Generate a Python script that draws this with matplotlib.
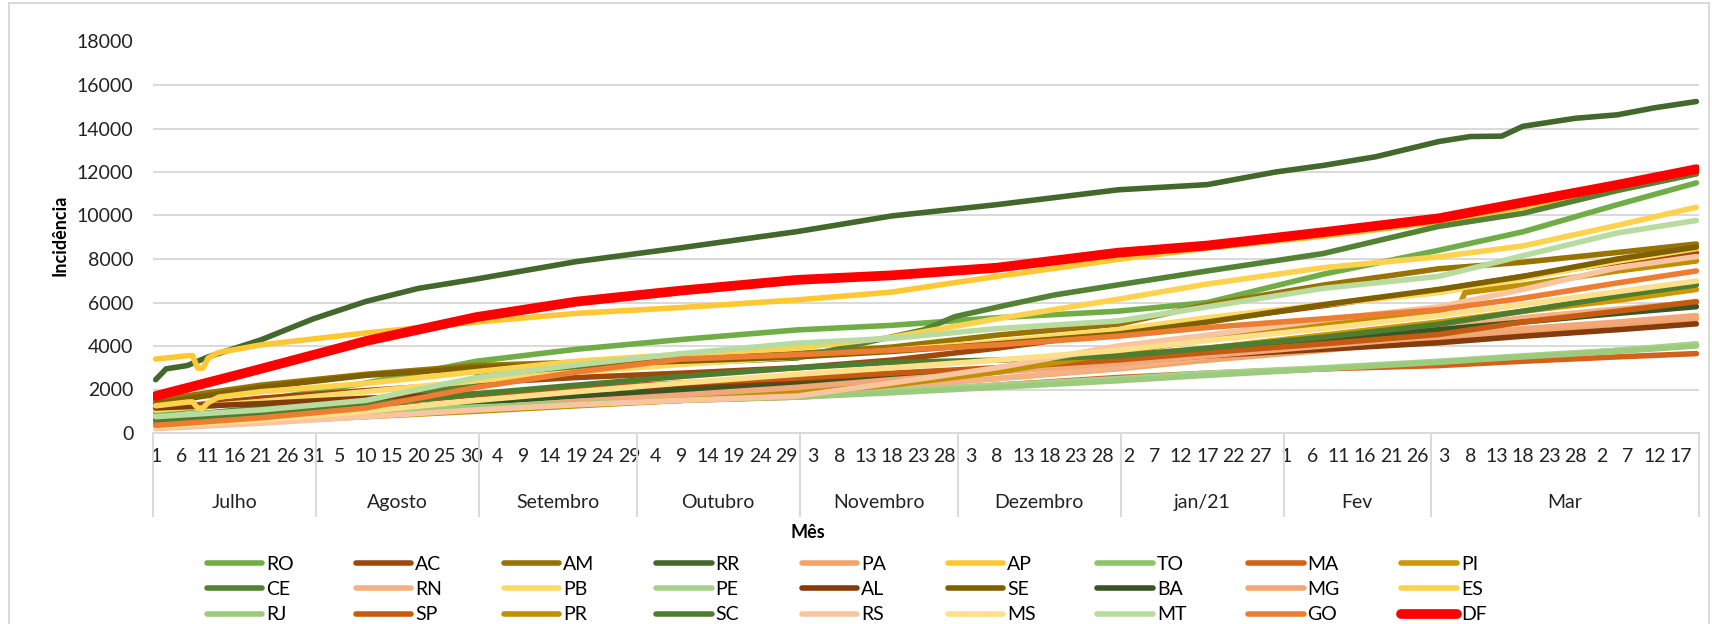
import numpy as np
import pandas as pd
import matplotlib
matplotlib.use("Agg")
import matplotlib.pyplot as plt
from matplotlib.patches import Rectangle
from matplotlib.transforms import blended_transform_factory

plt.rcParams['font.family'] = ['Lato', 'DejaVu Sans']

# Incidência acumulada por estado (índice = dia desde 1/jul/2020)
DIAS = [0, 20, 40, 61, 80, 100, 122, 140, 160, 183, 200, 222, 244, 260, 278, 293]

RO = [950, 1500, 2300, 3300, 3850, 4300, 4740, 4950, 5300, 5600, 6000, 7300, 8400, 9250, 10500, 11500]
AC = [1100, 1600, 1950, 2300, 2550, 2750, 3000, 3350, 3900, 4650, 5150, 5850, 6580, 7200, 7850, 8290]
AM = [1500, 2200, 2700, 3100, 3250, 3400, 3650, 3950, 4500, 5000, 5900, 6800, 7550, 7850, 8300, 8690]
PA = [450, 650, 900, 1150, 1350, 1600, 1900, 2200, 2500, 2950, 3350, 3800, 4300, 4650, 5000, 5250]
TO = [450, 750, 1000, 1250, 1400, 1550, 1700, 1900, 2150, 2450, 2700, 2950, 3250, 3500, 3800, 4050]
MA = [350, 600, 850, 1100, 1300, 1500, 1650, 1900, 2200, 2550, 2750, 2950, 3100, 3300, 3500, 3650]
PI = [500, 750, 1050, 1350, 1600, 1850, 2100, 2400, 2800, 3400, 3900, 4500, 5100, 5600, 6100, 6600]
RN = [350, 550, 800, 1050, 1300, 1550, 1800, 2100, 2500, 3000, 3500, 4100, 4800, 5300, 5700, 6000]
PB = [1050, 1450, 1900, 2400, 2800, 3150, 3500, 3800, 4200, 4750, 5300, 5900, 6450, 7100, 7900, 8480]
PE = [650, 900, 1150, 1380, 1500, 1620, 1750, 1950, 2200, 2500, 2750, 3000, 3300, 3550, 3800, 4100]
AL = [1150, 1350, 1600, 1800, 2000, 2150, 2350, 2600, 2900, 3250, 3550, 3850, 4150, 4450, 4750, 5020]
SE = [1350, 2100, 2650, 3000, 3150, 3300, 3500, 3750, 4100, 4550, 5100, 5900, 6600, 7200, 8000, 8550]
BA = [550, 800, 1100, 1400, 1700, 1950, 2200, 2500, 2850, 3400, 3800, 4250, 4750, 5100, 5500, 5810]
MG = [300, 550, 850, 1150, 1450, 1750, 2100, 2450, 2800, 3200, 3550, 4000, 4450, 4800, 5100, 5400]
RJ = [500, 700, 950, 1200, 1350, 1500, 1650, 1850, 2100, 2400, 2650, 2950, 3250, 3500, 3750, 4000]
SP = [400, 800, 1300, 1750, 2050, 2300, 2530, 2750, 3000, 3360, 3700, 4100, 4530, 5100, 5600, 6040]
SC = [600, 900, 1300, 1800, 2200, 2600, 3000, 3250, 3350, 3550, 3900, 4400, 5000, 5600, 6300, 6810]
RS = [200, 450, 750, 1060, 1300, 1500, 1700, 2300, 3000, 4000, 4500, 5200, 5800, 6600, 7600, 8110]
MS = [300, 600, 1000, 1500, 1900, 2300, 2700, 3000, 3350, 3800, 4250, 4800, 5400, 5900, 6500, 6990]
MT = [750, 1060, 1500, 2550, 3130, 3650, 4130, 4350, 4800, 5150, 5800, 6650, 7200, 8150, 9200, 9770]
GO = [350, 700, 1150, 2100, 2800, 3400, 3600, 3800, 4050, 4450, 4850, 5250, 5670, 6200, 6900, 7450]
DF = [1700, 2950, 4230, 5330, 6040, 6550, 7040, 7250, 7600, 8290, 8620, 9230, 9870, 10600, 11410, 12130]

# séries com saltos / quedas pontuais
RR_DIAS = [0, 2, 6, 10, 20, 30, 40, 50, 61, 80, 100, 122, 140, 160, 183, 200, 213, 222, 232,
           244, 250, 256, 260, 270, 278, 285, 293]
RR = [2450, 2950, 3100, 3500, 4280, 5250, 6050, 6650, 7080, 7880, 8520, 9260, 9980, 10500, 11180,
      11420, 12000, 12300, 12700, 13400, 13630, 13650, 14100, 14470, 14630, 14950, 15240]
AP_DIAS = [0, 6, 7, 8, 9, 10, 12, 20, 40, 61, 80, 100, 122, 140, 160, 183, 200, 222, 244, 260, 278, 293]
AP = [3400, 3550, 3560, 2980, 2980, 3450, 3700, 4050, 4600, 5100, 5500, 5770, 6120, 6480, 7200,
      7980, 8500, 9050, 9700, 10380, 11200, 11950]
ES_DIAS = [0, 6, 7, 8, 9, 10, 12, 20, 40, 61, 80, 100, 122, 140, 160, 183, 200, 222, 244, 260, 278, 293]
ES = [1250, 1420, 1430, 1150, 1150, 1400, 1650, 1900, 2280, 2820, 3300, 3620, 3900, 4400, 5250,
      6150, 6850, 7600, 8100, 8600, 9550, 10380]
CE_DIAS = [0, 20, 40, 60, 61, 80, 100, 122, 133, 146, 152, 162, 171, 183, 200, 222, 244, 260, 278, 293]
CE = [700, 1150, 1500, 2150, 2600, 2950, 3200, 3450, 4050, 4740, 5350, 5890, 6350, 6810, 7450,
      8250, 9500, 10100, 11150, 11910]
PR_DIAS = [0, 20, 40, 61, 80, 100, 122, 140, 160, 183, 200, 222, 244, 248, 249, 260, 278, 293]
PR = [250, 500, 750, 1000, 1250, 1500, 1830, 2200, 2800, 3700, 4300, 5000, 5600, 5900, 6450,
      6800, 7450, 7910]

ESTADOS = ["RO", "AC", "AM", "RR", "PA", "AP", "TO", "MA", "PI",
           "CE", "RN", "PB", "PE", "AL", "SE", "BA", "MG", "ES",
           "RJ", "SP", "PR", "SC", "RS", "MS", "MT", "GO", "DF"]
CORES = ["#70AD47", "#9E480E", "#997300", "#43682B", "#F4A46A", "#FFC833", "#8FC46A", "#D5601A", "#CC9900",
         "#548235", "#F4B183", "#FFD966", "#A9D18E", "#843C0C", "#7F6000", "#375623", "#F1A777", "#FFD24D",
         "#9DCB7D", "#C55A11", "#BF9000", "#4E7D30", "#F8C5A0", "#FFE08A", "#B8DBA0", "#ED7D31", "#FF0000"]

MESES = ["Julho", "Agosto", "Setembro", "Outubro", "Novembro", "Dezembro", "jan/21", "Fev", "Mar"]
DIAS_POR_MES = [31, 31, 30, 31, 30, 31, 31, 28, 51]

dados = {"RO": (DIAS, RO), "AC": (DIAS, AC), "AM": (DIAS, AM), "RR": (RR_DIAS, RR),
         "PA": (DIAS, PA), "AP": (AP_DIAS, AP), "TO": (DIAS, TO), "MA": (DIAS, MA),
         "PI": (DIAS, PI), "CE": (CE_DIAS, CE), "RN": (DIAS, RN), "PB": (DIAS, PB),
         "PE": (DIAS, PE), "AL": (DIAS, AL), "SE": (DIAS, SE), "BA": (DIAS, BA),
         "MG": (DIAS, MG), "ES": (ES_DIAS, ES), "RJ": (DIAS, RJ), "SP": (DIAS, SP),
         "PR": (PR_DIAS, PR), "SC": (DIAS, SC), "RS": (DIAS, RS), "MS": (DIAS, MS),
         "MT": (DIAS, MT), "GO": (DIAS, GO), "DF": (DIAS, DF)}

W, H = 1712, 624
fig = plt.figure(figsize=(W / 100, H / 100), dpi=100)
ax = fig.add_axes([153 / W, 1 - 433 / H, (1699 - 153) / W, (433 - 41.5) / H])

handles = []
for nome, cor in zip(ESTADOS, CORES):
    d, v = dados[nome]
    lw = 7.0 if nome == "DF" else 4.0
    h, = ax.plot(d, v, color=cor, lw=lw, solid_capstyle="round",
                 solid_joinstyle="round", label=nome)
    handles.append(h)

n_dias = sum(DIAS_POR_MES)
datas = pd.date_range("2020-07-01", periods=n_dias, freq="D")

ax.set_xlim(-0.5, n_dias - 0.5)
ax.set_ylim(0, 18000)
ax.set_yticks(range(0, 18001, 2000))
ax.set_xticks(range(0, n_dias, 5))
ax.set_xticklabels([str(datas[i].day) for i in range(0, n_dias, 5)])
ax.tick_params(axis="x", length=0, pad=11, labelsize=14, labelcolor="#222222")
ax.tick_params(axis="y", length=0, pad=14, labelsize=14, labelcolor="#222222")
ax.yaxis.grid(True, color="#D9D9D9", lw=1.4)
ax.set_axisbelow(True)
for s in ["left", "right", "top"]:
    ax.spines[s].set_visible(False)
ax.spines["bottom"].set_color("#D9D9D9")
ax.spines["bottom"].set_linewidth(1.4)

# eixo de categorias em dois níveis (dia / mês)
tr = blended_transform_factory(ax.transData, ax.transAxes)
limites = np.concatenate([[0], np.cumsum(DIAS_POR_MES)])
for b in limites:
    ax.plot([b - 0.5, b - 0.5], [0, -0.212], transform=tr, color="#D9D9D9",
            lw=1.4, clip_on=False)
for i, mes in enumerate(MESES):
    centro = (limites[i] + limites[i + 1]) / 2 - 0.5
    ax.text(centro, -0.178, mes, transform=tr, ha="center", va="center",
            fontsize=14, color="#222222")

fig.text(60 / W, 1 - 235 / H, "Incidência", rotation=90, ha="center", va="center",
         fontsize=13, fontweight="bold")
fig.text(808 / W, 1 - 532 / H, "Mês", ha="center", va="center",
         fontsize=13, fontweight="bold")

# legenda preenchida por linhas (9 colunas x 3 linhas)
ordem = [r * 9 + c for c in range(9) for r in range(3)]
fig.legend([handles[i] for i in ordem], [ESTADOS[i] for i in ordem], ncol=9,
           loc="upper left", bbox_to_anchor=(207 / W, 1 - 556 / H), frameon=False,
           fontsize=14, handlelength=2.85, handletextpad=0.2, columnspacing=3.18,
           labelspacing=0.42, borderpad=0, borderaxespad=0)

fig.patches.append(Rectangle((9 / W, -0.1), 1700 / W, 1 - 3 / H + 0.1,
                             transform=fig.transFigure, fill=False,
                             edgecolor="#D9D9D9", lw=1.4))

fig.savefig("out.png", dpi=100)
